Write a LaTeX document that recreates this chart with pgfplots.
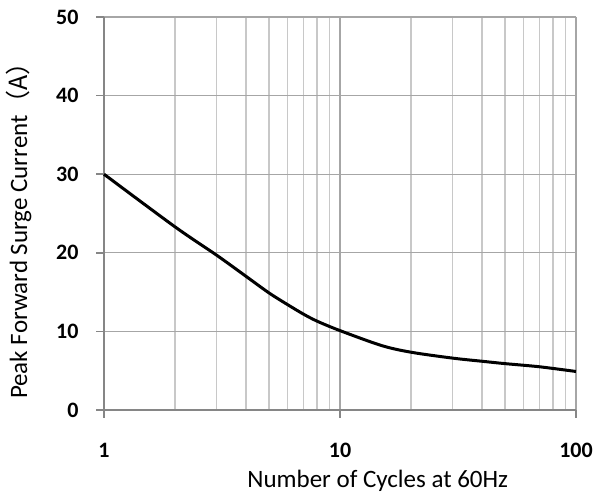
\documentclass[border=0pt]{standalone}
\usepackage{fontspec}
\setmainfont{Carlito}
\newfontfamily\cjk{Noto Sans CJK SC}
\usepackage{pgfplots}
\pgfplotsset{compat=1.18}
\definecolor{majgrid}{HTML}{A6A6A6}
\definecolor{mingrid}{HTML}{C8C8C8}
\definecolor{axline}{HTML}{868686}
\begin{document}
\begin{tikzpicture}
\useasboundingbox (-104pt,-87pt) rectangle (504pt,410pt);
\begin{axis}[
  at={(0,0)}, anchor=south west,
  scale only axis, width=472pt, height=393pt,
  xmode=log, xmin=1, xmax=100, ymin=0, ymax=50,
  xtick={1,10,100}, xticklabels={1,10,100},
  ytick={0,10,20,30,40,50},
  minor xtick={2,3,4,5,6,7,8,9,20,30,40,50,60,70,80,90},
  grid=both,
  major grid style={majgrid, line width=1.3pt},
  minor grid style={mingrid, line width=1.3pt},
  axis lines=left,
  axis line style={-, axline, line width=1.5pt},
  tick align=outside,
  major tick length=8pt, minor tick length=0pt,
  tick style={axline, line width=1.5pt},
  every tick label/.append style={font=\fontsize{22}{26}\selectfont\bfseries},
  /pgf/number format/assume math mode=true,
  yticklabel style={xshift=-14pt},
  xticklabel style={yshift=-22pt},
  xlabel={Number of Cycles at 60Hz},
  ylabel={Peak Forward Surge Current{\cjk （A）}},
  label style={font=\fontsize{25}{30}\selectfont},
  xlabel style={at={(axis description cs:0.58,0)}, anchor=base, yshift=-78pt},
  ylabel style={at={(axis description cs:-0.163,0.472)}, anchor=base},
  clip=false,
]
\addplot[black, line width=3pt, smooth, tension=0.5] coordinates {
 (1,30) (2,23.3) (3,19.7) (4,17.0) (5,14.9) (6,13.4) (7,12.2) (8,11.3) (10,10.1)
 (15,8.2) (20,7.35) (30,6.6) (40,6.2) (50,5.9) (70,5.5) (100,4.9)
};
\end{axis}
\end{tikzpicture}
\end{document}
